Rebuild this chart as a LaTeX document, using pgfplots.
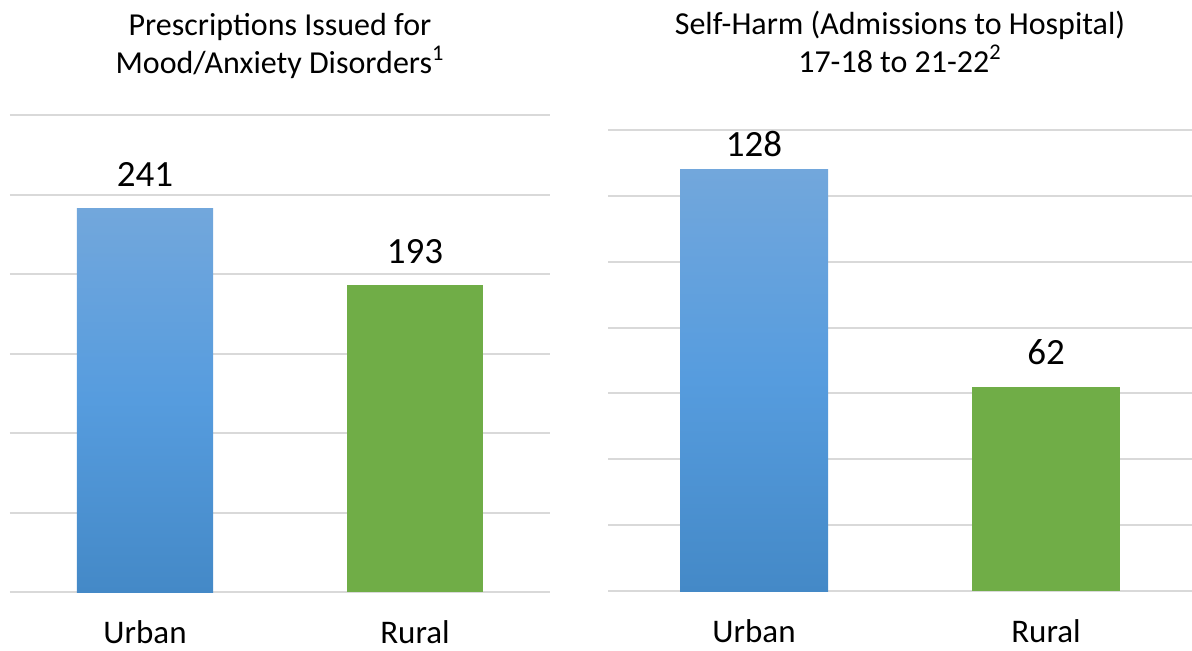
\documentclass[border=0pt]{standalone}
\usepackage{pgfplots}
\pgfplotsset{compat=1.18}
\usepackage{fontspec}
\setmainfont{Carlito}
\definecolor{gridc}{HTML}{D9D9D9}
\definecolor{ubtop}{RGB}{114,167,220}
\definecolor{ubmid}{RGB}{86,156,222}
\definecolor{ubbot}{RGB}{68,137,199}
\definecolor{rgreen}{HTML}{70AD47}
\begin{document}
\begin{tikzpicture}
\path[use as bounding box] (0,0) rectangle (596pt,325pt);
\pgfplotsset{
 panel/.style={
  scale only axis, anchor=south west,
  axis line style={draw=none},
  major tick length=0pt, tick style={draw=none},
  ymajorgrids, grid style={gridc, line width=1pt},
  yticklabels={},
  xmin=-0.5, xmax=1.5, xtick={0,1}, xticklabels={Urban,Rural},
  xticklabel style={font=\fontsize{16.5}{18}\selectfont, anchor=base, yshift=-25.5pt},
  ymin=0,
  title style={font=\fontsize{16}{19}\selectfont, align=center, anchor=base, at={(0.5,1)}},
  ybar, bar shift=0pt,
  nodes near coords,
  /pgf/number format/assume math mode=true,
  clip=false,
 }
}
\begin{axis}[panel, at={(5pt,29pt)}, width=270pt, height=238.5pt,
  ymax=300, ytick={0,50,...,300}, bar width=68pt,
  title={Prescriptions Issued for\\Mood/Anxiety Disorders\textsuperscript{1}},
  title style={yshift=15pt}]
\addplot[draw=none, top color=ubtop, bottom color=ubbot, middle color=ubmid,
  nodes near coords style={font=\fontsize{18.5}{20}\selectfont, anchor=base, yshift=11pt, text=black}]
  coordinates {(0,241)};
\addplot[draw=none, fill=rgreen,
  nodes near coords style={font=\fontsize{18.5}{20}\selectfont, anchor=base, yshift=11pt, text=black}]
  coordinates {(1,193)};
\end{axis}
\begin{axis}[panel, at={(304pt,29.5pt)}, width=292pt, height=230.5pt,
  ymax=140, ytick={0,20,...,140}, bar width=74pt,
  title={Self-Harm (Admissions to Hospital)\\17-18 to 21-22\textsuperscript{2}},
  title style={yshift=23pt}]
\addplot[draw=none, top color=ubtop, bottom color=ubbot, middle color=ubmid,
  nodes near coords style={font=\fontsize{18.5}{20}\selectfont, anchor=base, yshift=6.5pt, text=black}]
  coordinates {(0,128)};
\addplot[draw=none, fill=rgreen,
  nodes near coords style={font=\fontsize{18.5}{20}\selectfont, anchor=base, yshift=11pt, text=black}]
  coordinates {(1,62)};
\end{axis}
\end{tikzpicture}
\end{document}
